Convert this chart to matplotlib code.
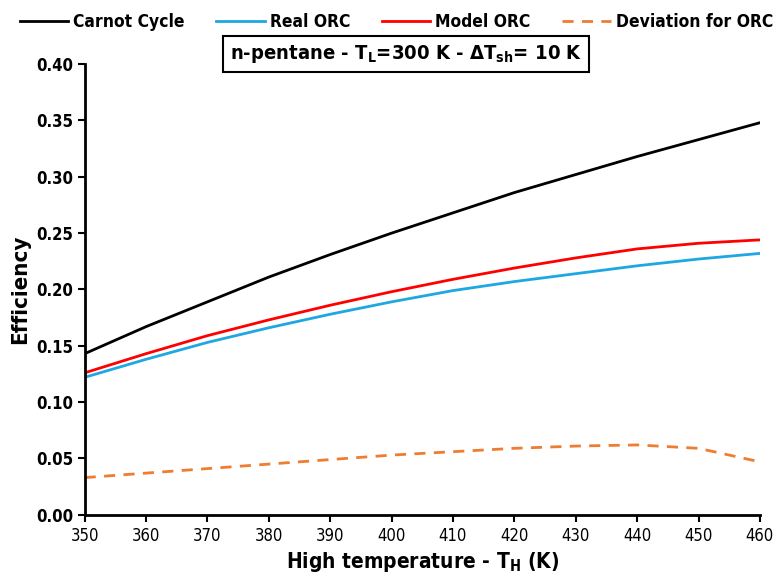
import numpy as np
import matplotlib.pyplot as plt

plt.rcParams['font.family'] = ['DejaVu Sans']
plt.rcParams['font.stretch'] = 'condensed'

temp_h = [350, 360, 370, 380, 390, 400, 410, 420, 430, 440, 450, 460]
carnot = [0.143, 0.167, 0.189, 0.211, 0.231, 0.250, 0.268, 0.286, 0.302, 0.318, 0.333, 0.348]
real_orc = [0.122, 0.138, 0.153, 0.166, 0.178, 0.189, 0.199, 0.207, 0.214, 0.221, 0.227, 0.232]
model_orc = [0.126, 0.143, 0.159, 0.173, 0.186, 0.198, 0.209, 0.219, 0.228, 0.236, 0.241, 0.244]
deviation = [0.033, 0.037, 0.041, 0.045, 0.049, 0.053, 0.056, 0.059, 0.061, 0.062, 0.059, 0.047]

x_ticks = np.arange(350, 461, 10)
y_ticks = np.arange(0, 0.401, 0.05)

fig = plt.figure(figsize=(7.77, 5.83), dpi=100)
ax = fig.add_axes([0.109, 0.117, 0.869, 0.773])

ax.plot(temp_h, carnot, color='black', lw=2, label='Carnot Cycle')
ax.plot(temp_h, real_orc, color='#1ea7e1', lw=2, label='Real ORC')
ax.plot(temp_h, model_orc, color='#ff0000', lw=2, label='Model ORC')
ax.plot(temp_h, deviation, color='#ed7d31', lw=2, ls=(0, (4, 3)), label='Deviation for ORC')

ax.set_xlim(350, 460)
ax.set_ylim(0, 0.40)
ax.set_xticks(x_ticks)
ax.set_yticks(y_ticks)
ax.set_yticklabels([f'{v:.2f}' for v in y_ticks], fontweight='bold', fontsize=12)
ax.set_xticklabels([str(v) for v in x_ticks], fontsize=12)
for s in ['top', 'right']:
    ax.spines[s].set_visible(False)
for s in ['left', 'bottom']:
    ax.spines[s].set_linewidth(2)
ax.tick_params(direction='out', length=5, width=1.5)

ax.set_xlabel('High temperature - T$_\\mathregular{H}$ (K)', fontsize=15, fontweight='bold')
ax.set_ylabel('Efficiency', fontsize=16, fontweight='bold')

ax.text(0.476, 1.022, 'n-pentane - T$_\\mathregular{L}$=300 K - ΔT$_\\mathregular{sh}$= 10 K',
        transform=ax.transAxes, ha='center', va='center', fontsize=14.5, fontweight='bold',
        bbox=dict(boxstyle='square,pad=0.35', fc='white', ec='black', lw=1.5), zorder=5)

handles, labels = ax.get_legend_handles_labels()
fig.legend(handles, labels, loc='upper center', bbox_to_anchor=(0.51, 1.005), ncol=4,
           frameon=False, prop={'weight': 'bold', 'size': 12.5}, handlelength=2.8,
           columnspacing=1.8, handletextpad=0.3)

fig.savefig('out.png', dpi=100)
